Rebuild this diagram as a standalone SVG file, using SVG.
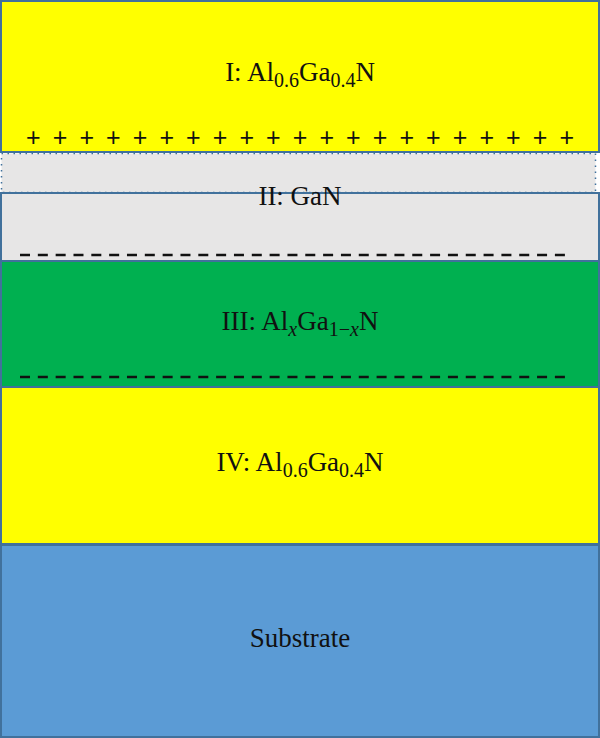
<svg xmlns="http://www.w3.org/2000/svg" width="600" height="738" viewBox="0 0 600 738">
<style>
.lbl{font-family:"Liberation Serif","DejaVu Serif",serif;font-size:27px;fill:#111;text-anchor:middle}
.sub{font-size:20px}
.plus{font-family:"Liberation Sans","DejaVu Sans",sans-serif;font-size:25px;fill:#111;text-anchor:middle}
.dash{stroke:#111;stroke-width:2.4;stroke-dasharray:10 7.83;fill:none}
.edge{stroke:#41719C;stroke-width:2}
</style>
<g id="layer-I">
<rect x="1" y="1" width="598" height="151" fill="#FFFF00" class="edge"/>
<text class="lbl" x="300" y="81">I: Al<tspan class="sub" dy="6">0.6</tspan><tspan dy="-6">Ga</tspan><tspan class="sub" dy="6">0.4</tspan><tspan dy="-6">N</tspan></text>
<text class="plus" y="146"><tspan x="33.3">+</tspan><tspan x="60">+</tspan><tspan x="86.7">+</tspan><tspan x="113.3">+</tspan><tspan x="140">+</tspan><tspan x="166.7">+</tspan><tspan x="193.3">+</tspan><tspan x="220">+</tspan><tspan x="246.7">+</tspan><tspan x="273.3">+</tspan><tspan x="300">+</tspan><tspan x="326.7">+</tspan><tspan x="353.3">+</tspan><tspan x="380">+</tspan><tspan x="406.7">+</tspan><tspan x="433.3">+</tspan><tspan x="460">+</tspan><tspan x="486.7">+</tspan><tspan x="513.3">+</tspan><tspan x="540">+</tspan><tspan x="566.7">+</tspan></text>
</g>
<g id="interface">
<rect x="1.5" y="153.5" width="594" height="39" fill="#E7E6E6" stroke="#41719C" stroke-width="1.5" stroke-dasharray="1.5 4.5"/>
</g>
<g id="layer-II">
<rect x="1" y="193" width="598" height="68" fill="#E7E6E6" class="edge"/>
<text class="lbl" x="300" y="205">II: GaN</text>
<line class="dash" x1="20" y1="255" x2="566" y2="255"/>
</g>
<g id="layer-III">
<rect x="1" y="261" width="598" height="126" fill="#00B050" class="edge"/>
<text class="lbl" x="300" y="330">III: Al<tspan class="sub" dy="6" font-style="italic">x</tspan><tspan dy="-6">Ga</tspan><tspan class="sub" dy="6">1−<tspan font-style="italic">x</tspan></tspan><tspan dy="-6">N</tspan></text>
<line class="dash" x1="20" y1="377" x2="566" y2="377"/>
</g>
<g id="layer-IV">
<rect x="1" y="387" width="598" height="157" fill="#FFFF00" class="edge"/>
<text class="lbl" x="300" y="471">IV: Al<tspan class="sub" dy="6">0.6</tspan><tspan dy="-6">Ga</tspan><tspan class="sub" dy="6">0.4</tspan><tspan dy="-6">N</tspan></text>
</g>
<g id="substrate">
<rect x="1" y="545" width="598" height="192" fill="#5B9BD5" class="edge"/>
<text class="lbl" x="300" y="647">Substrate</text>
</g>
<g id="connectors"/>
</svg>
